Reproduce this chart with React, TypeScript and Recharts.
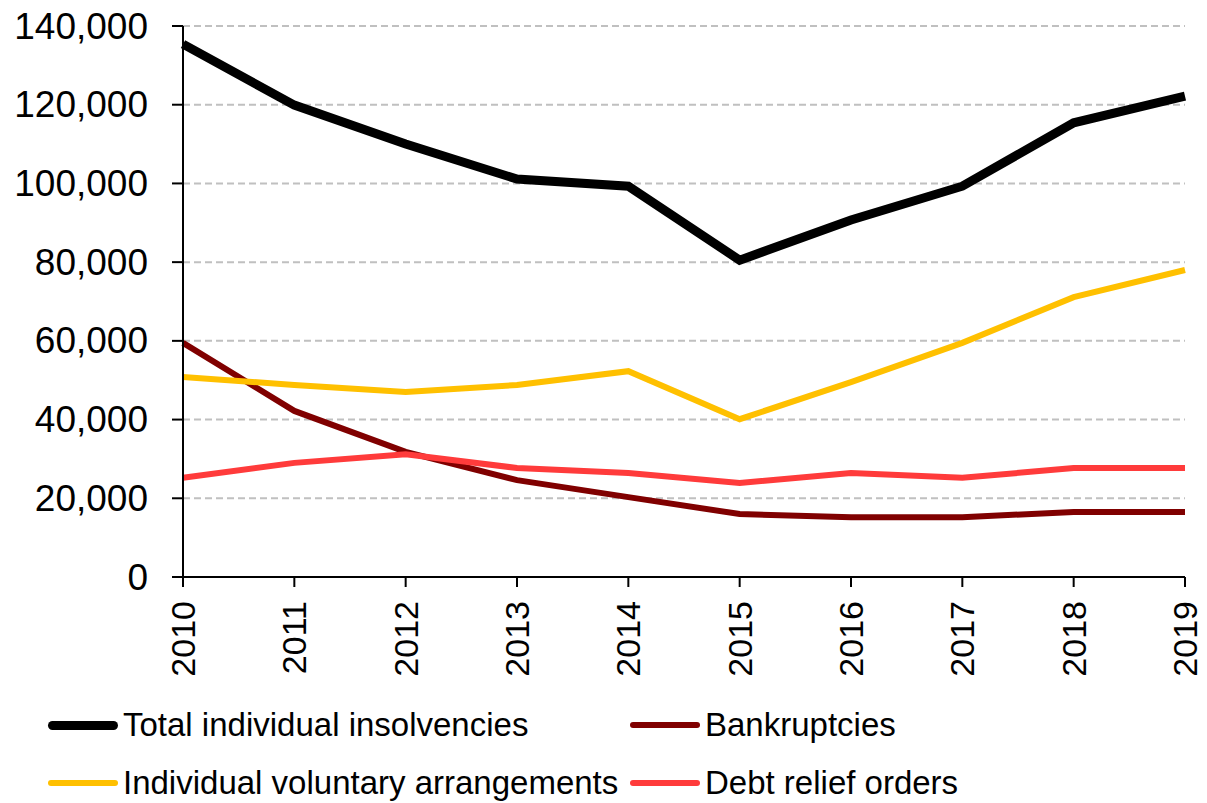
import React from 'react';
import { LineChart, Line, XAxis, YAxis, CartesianGrid, Legend } from 'recharts';

const years = ['2010', '2011', '2012', '2013', '2014', '2015', '2016', '2017', '2018', '2019'];
const totalIndividual = [135400, 119900, 110000, 101100, 99300, 80500, 90700, 99300, 115400, 122200];
const bankruptcies = [59500, 42200, 31800, 24600, 20300, 16000, 15200, 15200, 16500, 16500];
const ivas = [50800, 48800, 47000, 48800, 52300, 40100, 49500, 59500, 71100, 78000];
const dros = [25200, 29000, 31200, 27700, 26400, 23900, 26400, 25200, 27700, 27700];
const yTicks = [0, 20000, 40000, 60000, 80000, 100000, 120000, 140000];

const data = years.map((y, i) => ({
  year: y,
  total: totalIndividual[i],
  bank: bankruptcies[i],
  iva: ivas[i],
  dro: dros[i],
}));

const FONT = 'Arial, "Liberation Sans", sans-serif';

const legendItems = [
  { label: 'Total individual insolvencies', color: '#000000', w: 9, x: 48, y: 18 },
  { label: 'Bankruptcies', color: '#800000', w: 6, x: 630, y: 18 },
  { label: 'Individual voluntary arrangements', color: '#FFC000', w: 6, x: 48, y: 76 },
  { label: 'Debt relief orders', color: '#FF3B3B', w: 6, x: 630, y: 76 },
];

const CustomLegend = () => (
  <div style={{ position: 'relative', width: 1207, height: 116 }}>
    {legendItems.map((it) => (
      <div
        key={it.label}
        style={{
          position: 'absolute',
          left: it.x,
          top: it.y,
          display: 'flex',
          alignItems: 'center',
          height: 40,
          whiteSpace: 'nowrap',
        }}
      >
        <div style={{ width: 70, height: it.w, background: it.color, borderRadius: it.w / 2, marginRight: 5 }} />
        <span style={{ fontFamily: FONT, fontSize: 33, color: '#000' }}>{it.label}</span>
      </div>
    ))}
  </div>
);

const fmt = (v: number) => v.toLocaleString('en-US');

export default function App() {
  return (
    <div style={{ position: 'absolute', left: 0, top: 0, background: '#fff' }}>
      <LineChart
        width={1207}
        height={803}
        data={data}
        margin={{ top: 26, right: 22, bottom: 0, left: 0 }}
      >
        <CartesianGrid
          horizontal
          vertical={false}
          stroke="#C0C0C0"
          strokeWidth={2}
          strokeDasharray="7 4"
        />
        <XAxis
          dataKey="year"
          interval={0}
          axisLine={{ stroke: '#000', strokeWidth: 2 }}
          tickLine={{ stroke: '#000', strokeWidth: 2 }}
          tickSize={10}
          height={110}
          padding={{ left: 0, right: 0 }}
          tick={({ x, y, payload }: any) => (
            <text
              x={x}
              y={y + 12}
              transform={`rotate(-90, ${x}, ${y + 12})`}
              textAnchor="end"
              dominantBaseline="central"
              fontFamily={FONT}
              fontSize={34}
              fill="#000"
            >
              {payload.value}
            </text>
          )}
        />
        <YAxis
          width={183}
          domain={[0, 140000]}
          ticks={yTicks}
          interval={0}
          axisLine={{ stroke: '#000', strokeWidth: 2 }}
          tickLine={{ stroke: '#000', strokeWidth: 2 }}
          tickSize={11}
          tick={({ x, y, payload }: any) => (
            <text
              x={x - 22}
              y={y}
              textAnchor="end"
              dominantBaseline="central"
              fontFamily={FONT}
              fontSize={37}
              fill="#000"
            >
              {fmt(payload.value)}
            </text>
          )}
        />
        <Legend verticalAlign="bottom" content={() => <CustomLegend />} />
        <Line type="linear" dataKey="bank" stroke="#800000" strokeWidth={6} dot={false} isAnimationActive={false} />
        <Line type="linear" dataKey="dro" stroke="#FF3B3B" strokeWidth={6} dot={false} isAnimationActive={false} />
        <Line type="linear" dataKey="iva" stroke="#FFC000" strokeWidth={6} dot={false} isAnimationActive={false} />
        <Line type="linear" dataKey="total" stroke="#000000" strokeWidth={9} dot={false} isAnimationActive={false} />
      </LineChart>
    </div>
  );
}
